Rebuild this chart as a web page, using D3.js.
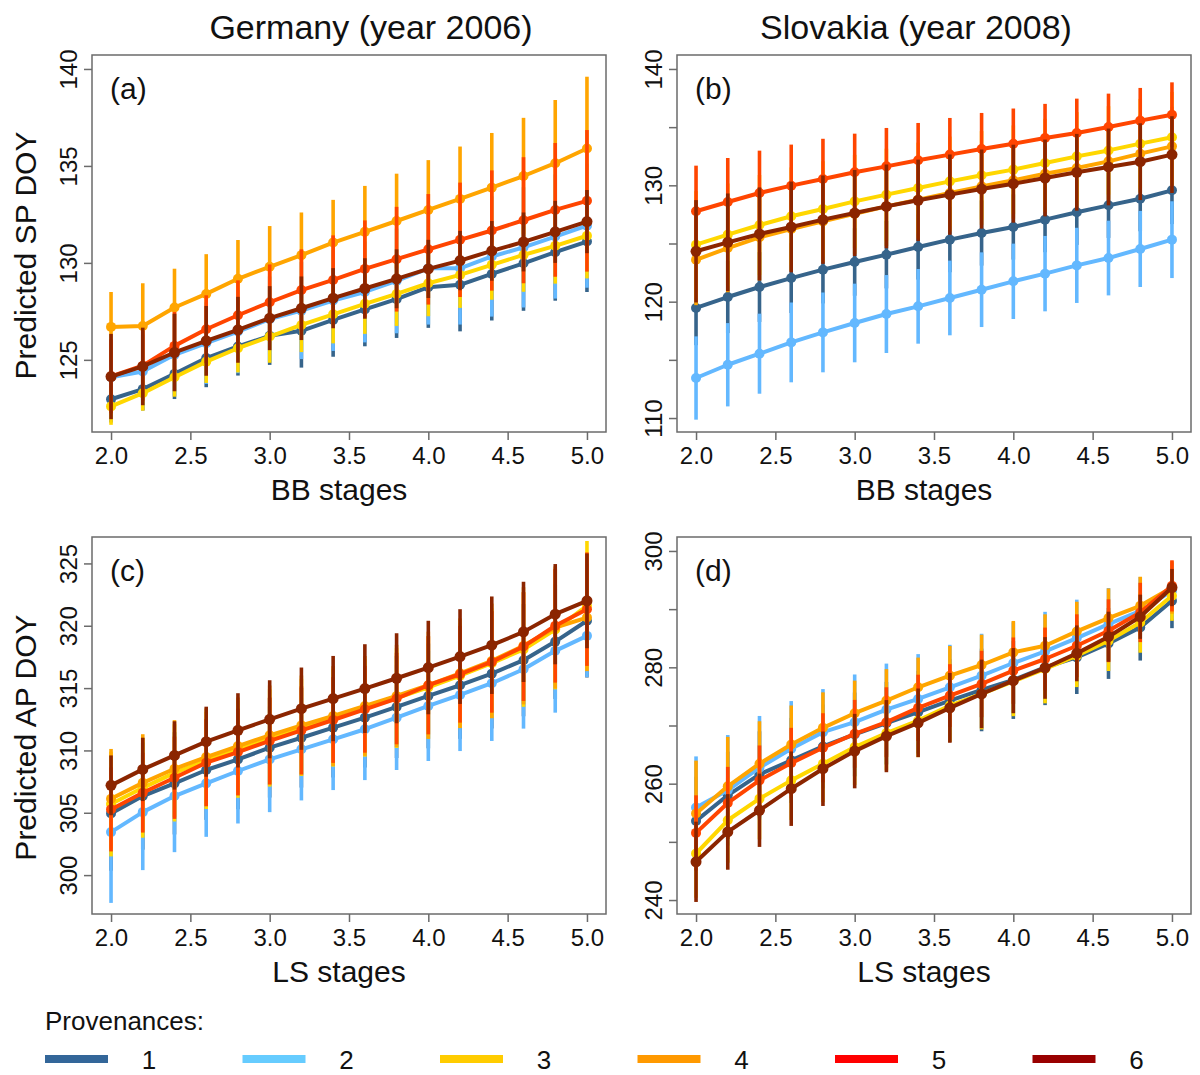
<!DOCTYPE html>
<html>
<head>
<meta charset="utf-8">
<script src="https://cdn.jsdelivr.net/npm/d3@7/dist/d3.min.js"></script>
<style>
  body { margin: 0; background: #fff; }
  text { font-family: "Liberation Sans", Arial, sans-serif; fill: #111; }
</style>
</head>
<body>
<div id="chart"></div>
<script>
// stages on the x axis (BB for top row, LS for bottom row)
var stages = [2.0, 2.2, 2.4, 2.6, 2.8, 3.0, 3.2, 3.4, 3.6, 3.8, 4.0, 4.2, 4.4, 4.6, 4.8, 5.0];
var provenances = ["1", "2", "3", "4", "5", "6"];
var xTicks = [2.0, 2.5, 3.0, 3.5, 4.0, 4.5, 5.0];

// (a) Germany, SP DOY vs BB stages : predicted value and half width of the bar
var pa1 = [122.97, 123.49, 124.28, 125.09, 125.69, 126.24, 126.5, 127.06, 127.6, 128.13, 128.75, 128.87, 129.43, 129.98, 130.55, 131.1];
var pa2 = [124.1, 124.4, 125.26, 125.86, 126.46, 127.1, 127.54, 128.06, 128.5, 129.07, 129.72, 129.72, 130.33, 130.8, 131.36, 131.92];
var pa3 = [122.6, 123.28, 124.1, 124.91, 125.6, 126.2, 126.8, 127.35, 127.89, 128.4, 128.95, 129.38, 129.9, 130.41, 130.88, 131.4];
var pa4 = [126.7, 126.75, 127.7, 128.4, 129.18, 129.8, 130.4, 131.05, 131.6, 132.16, 132.73, 133.3, 133.88, 134.48, 135.14, 135.9];
var pa5 = [124.15, 124.7, 125.72, 126.58, 127.3, 127.97, 128.6, 129.12, 129.69, 130.19, 130.7, 131.19, 131.67, 132.2, 132.73, 133.2];
var pa6 = [124.14, 124.66, 125.38, 125.98, 126.55, 127.15, 127.66, 128.18, 128.68, 129.18, 129.69, 130.12, 130.62, 131.08, 131.6, 132.13];
var pa1h = [1.2, 1.1, 1.3, 1.5, 1.5, 1.5, 1.9, 1.9, 1.9, 2.0, 2.1, 2.4, 2.4, 2.45, 2.5, 2.6];
var pa2h = [2.2, 1.9, 2.1, 2.1, 2.15, 2.2, 2.5, 2.6, 2.6, 2.7, 2.9, 2.9, 3.1, 3.1, 3.2, 3.2];
var pa3h = [0.95, 0.9, 1.0, 1.1, 1.25, 1.35, 1.4, 1.5, 1.55, 1.65, 1.7, 1.7, 1.8, 1.9, 1.95, 2.2];
var pa4h = [1.8, 2.2, 2.0, 2.05, 2.0, 2.1, 2.2, 2.2, 2.37, 2.44, 2.57, 2.7, 2.82, 3.0, 3.26, 3.7];
var pa5h = [1.9, 1.8, 1.75, 1.75, 1.8, 1.95, 2.1, 2.3, 2.5, 2.7, 2.85, 2.95, 3.1, 3.25, 3.45, 3.65];
var pa6h = [2.2, 2.0, 2.0, 1.8, 1.7, 1.65, 1.64, 1.55, 1.56, 1.52, 1.5, 1.53, 1.54, 1.52, 1.6, 1.63];

// (b) Slovakia, SP DOY vs BB stages
var pb1 = [119.46, 120.4, 121.26, 122.03, 122.75, 123.41, 124.04, 124.7, 125.33, 125.9, 126.42, 127.05, 127.68, 128.28, 128.85, 129.57];
var pb2 = [113.44, 114.58, 115.53, 116.5, 117.36, 118.17, 118.94, 119.6, 120.32, 121.03, 121.75, 122.41, 123.12, 123.75, 124.53, 125.33];
var pb3 = [124.9, 125.76, 126.59, 127.34, 127.97, 128.62, 129.2, 129.77, 130.34, 130.86, 131.35, 131.92, 132.49, 133.0, 133.58, 134.13];
var pb4 = [123.6, 124.61, 125.53, 126.25, 126.9, 127.56, 128.19, 128.77, 129.34, 129.91, 130.43, 131.0, 131.49, 132.06, 132.72, 133.35];
var pb5 = [127.77, 128.57, 129.34, 129.97, 130.54, 131.12, 131.63, 132.15, 132.64, 133.12, 133.58, 134.07, 134.5, 135.01, 135.56, 136.07];
var pb6 = [124.33, 125.1, 125.82, 126.42, 127.05, 127.62, 128.19, 128.71, 129.2, 129.68, 130.14, 130.63, 131.12, 131.58, 132.03, 132.64];
var pb1h = [3.2, 3.1, 3.0, 3.0, 2.9, 2.9, 2.9, 2.8, 2.8, 2.8, 2.8, 2.8, 2.8, 2.8, 2.8, 2.9];
var pb2h = [3.58, 3.58, 3.44, 3.43, 3.43, 3.38, 3.35, 3.21, 3.21, 3.21, 3.24, 3.24, 3.23, 3.21, 3.27, 3.3];
var pb3h = [4.6, 4.4, 4.3, 4.2, 4.1, 4.0, 3.95, 3.9, 3.85, 3.8, 3.8, 3.8, 3.8, 3.8, 3.85, 3.9];
var pb4h = [3.9, 3.8, 3.7, 3.6, 3.5, 3.45, 3.4, 3.35, 3.3, 3.3, 3.3, 3.3, 3.3, 3.3, 3.35, 3.4];
var pb5h = [3.92, 3.78, 3.64, 3.53, 3.46, 3.32, 3.3, 3.21, 3.15, 3.1, 3.02, 2.93, 2.95, 2.87, 2.81, 2.78];
var pb6h = [4.4, 4.2, 4.0, 3.9, 3.8, 3.7, 3.6, 3.5, 3.45, 3.4, 3.35, 3.3, 3.3, 3.3, 3.3, 3.3];

// (c) Germany, AP DOY vs LS stages
var pc1 = [304.95, 306.34, 307.36, 308.43, 309.28, 310.22, 311.02, 311.83, 312.63, 313.49, 314.37, 315.23, 316.16, 317.24, 318.73, 320.4];
var pc2 = [303.45, 305.05, 306.34, 307.36, 308.35, 309.28, 310.09, 310.89, 311.7, 312.63, 313.57, 314.45, 315.39, 316.51, 317.99, 319.19];
var pc3 = [305.7, 307.0, 308.2, 309.2, 310.1, 311.0, 311.85, 312.6, 313.4, 314.2, 315.05, 316.0, 317.0, 318.1, 319.7, 321.6];
var pc4 = [306.12, 307.4, 308.53, 309.47, 310.35, 311.21, 312.01, 312.76, 313.57, 314.37, 315.23, 316.19, 317.18, 318.39, 319.86, 320.66];
var pc5 = [305.27, 306.61, 307.81, 309.02, 309.87, 310.76, 311.61, 312.44, 313.3, 314.16, 315.23, 316.11, 317.1, 318.33, 320.0, 321.33];
var pc6 = [307.2, 308.48, 309.6, 310.7, 311.61, 312.5, 313.35, 314.16, 314.96, 315.79, 316.65, 317.53, 318.44, 319.51, 320.93, 322.0];
var pc1h = [4.6, 4.3, 4.1, 4.0, 4.0, 4.0, 4.0, 4.0, 4.0, 4.1, 4.2, 4.3, 4.4, 4.5, 4.6, 4.55];
var pc2h = [5.68, 4.65, 4.5, 4.29, 4.21, 4.23, 4.1, 4.07, 4.08, 4.2, 4.42, 4.5, 4.63, 4.76, 4.96, 3.3];
var pc3h = [4.2, 4.0, 3.9, 3.9, 3.9, 3.9, 3.9, 3.9, 3.9, 4.0, 4.1, 4.2, 4.4, 4.6, 4.8, 5.2];
var pc4h = [4.0, 3.9, 3.9, 3.9, 3.9, 4.0, 4.0, 4.0, 4.0, 4.1, 4.3, 4.4, 4.6, 4.7, 4.9, 4.3];
var pc5h = [3.37, 3.2, 3.3, 3.5, 3.48, 3.48, 3.53, 3.44, 3.48, 3.67, 3.94, 3.88, 4.07, 4.36, 4.56, 4.55];
var pc6h = [2.4, 2.54, 2.74, 2.81, 2.98, 3.13, 3.3, 3.42, 3.56, 3.61, 3.75, 3.8, 3.91, 4.02, 4.02, 3.8];

// (d) Slovakia, AP DOY vs LS stages
var pd1 = [253.6, 258.0, 261.6, 264.0, 266.4, 268.46, 270.4, 272.29, 274.29, 276.11, 277.83, 280.0, 281.71, 284.11, 286.86, 291.43];
var pd2 = [255.89, 258.86, 262.74, 266.0, 268.86, 270.57, 272.74, 274.57, 276.57, 278.57, 280.74, 282.74, 285.03, 287.43, 289.71, 293.14];
var pd3 = [248.0, 253.71, 257.43, 260.57, 263.43, 266.29, 268.69, 270.86, 273.43, 275.43, 277.6, 279.71, 282.0, 284.57, 287.71, 292.29];
var pd4 = [254.86, 259.54, 263.43, 266.74, 269.6, 272.11, 274.29, 276.57, 278.57, 280.4, 282.57, 283.71, 286.17, 288.46, 290.57, 293.71];
var pd5 = [251.54, 256.69, 260.57, 263.54, 266.17, 268.57, 270.57, 273.03, 275.14, 277.14, 279.43, 281.43, 283.71, 286.29, 289.43, 294.0];
var pd6 = [246.57, 251.71, 255.43, 259.14, 262.57, 265.6, 268.17, 270.46, 273.03, 275.43, 277.71, 279.89, 282.4, 285.26, 288.69, 293.71];
var pd1h = [7.6, 7.5, 7.4, 7.3, 7.2, 7.2, 7.1, 7.1, 7.1, 7.1, 6.7, 6.5, 6.3, 6.1, 5.7, 4.7];
var pd2h = [8.8, 9.5, 8.9, 8.2, 7.4, 8.2, 7.9, 7.7, 7.3, 7.2, 7.0, 6.8, 6.6, 6.2, 5.8, 4.8];
var pd3h = [7.6, 7.3, 7.0, 6.8, 6.6, 6.5, 6.4, 6.3, 6.2, 6.1, 6.0, 5.9, 5.4, 5.2, 5.2, 4.3];
var pd4h = [9.1, 8.5, 7.3, 6.7, 6.1, 5.6, 5.4, 5.1, 5.1, 5.2, 5.4, 5.4, 5.1, 5.1, 5.0, 4.5];
var pd5h = [6.46, 6.2, 6.0, 6.06, 5.94, 5.83, 6.0, 5.7, 5.4, 5.7, 5.7, 5.4, 5.4, 5.4, 5.1, 4.4];
var pd6h = [6.9, 6.5, 6.3, 6.4, 6.4, 6.4, 6.2, 5.9, 6.0, 5.9, 5.6, 5.3, 4.8, 4.3, 3.8, 3.2];

// line colours in the panels and the (slightly different) legend colours
var lineColors = ["#36648B", "#63B8FF", "#FFD700", "#FFA500", "#FF4500", "#8B2500"];
var legendColors = ["#336699", "#66CCFF", "#FFCC00", "#FF9900", "#FF0000", "#990000"];

var panels = [
	{tag: "(a)", left: 92, top: 55, vals: [pa1, pa2, pa3, pa4, pa5, pa6], half: [pa1h, pa2h, pa3h, pa4h, pa5h, pa6h],
		ylim: [122, 140], yticks: [125, 130, 135, 140], ystep: 5, xlab: "BB stages", ylab: "Predicted SP DOY"},
	{tag: "(b)", left: 677, top: 55, vals: [pb1, pb2, pb3, pb4, pb5, pb6], half: [pb1h, pb2h, pb3h, pb4h, pb5h, pb6h],
		ylim: [110, 140], yticks: [110, 115, 120, 125, 130, 135, 140], ystep: 10, xlab: "BB stages", ylab: null},
	{tag: "(c)", left: 92, top: 537, vals: [pc1, pc2, pc3, pc4, pc5, pc6], half: [pc1h, pc2h, pc3h, pc4h, pc5h, pc6h],
		ylim: [298, 326], yticks: [300, 305, 310, 315, 320, 325], ystep: 5, xlab: "LS stages", ylab: "Predicted AP DOY"},
	{tag: "(d)", left: 677, top: 537, vals: [pd1, pd2, pd3, pd4, pd5, pd6], half: [pd1h, pd2h, pd3h, pd4h, pd5h, pd6h],
		ylim: [240, 300], yticks: [240, 250, 260, 270, 280, 290, 300], ystep: 20, xlab: "LS stages", ylab: null}
];

var W = 1200, H = 1075, pw = 514, ph = 377;

var svg = d3.select("#chart").append("svg")
	.attr("width", W)
	.attr("height", H);

// column titles
svg.append("text").attr("x", 371).attr("y", 39).attr("text-anchor", "middle")
	.style("font-size", "34px").text("Germany (year 2006)");
svg.append("text").attr("x", 916).attr("y", 39).attr("text-anchor", "middle")
	.style("font-size", "34px").text("Slovakia (year 2008)");

panels.forEach(function(p, k) {
	// R style 4% padding around the data range
	var xpad = 0.04 * 3, ypad = 0.04 * (p.ylim[1] - p.ylim[0]);
	var x = d3.scaleLinear().domain([2 - xpad, 5 + xpad]).range([p.left, p.left + pw]);
	var y = d3.scaleLinear().domain([p.ylim[0] - ypad, p.ylim[1] + ypad]).range([p.top + ph, p.top]);

	var clipId = "clip" + k;
	svg.append("clipPath").attr("id", clipId)
		.append("rect").attr("x", p.left).attr("y", p.top).attr("width", pw).attr("height", ph);

	var g = svg.append("g").attr("clip-path", "url(#" + clipId + ")");

	var line = d3.line()
		.x(function(d, i) { return x(stages[i]); })
		.y(function(d) { return y(d); });

	p.vals.forEach(function(vals, s) {
		var col = lineColors[s];
		var sg = g.append("g");
		// error bars
		sg.selectAll("line.bar")
			.data(vals)
			.enter()
			.append("line")
				.attr("class", "bar")
				.attr("x1", function(d, i) { return x(stages[i]); })
				.attr("x2", function(d, i) { return x(stages[i]); })
				.attr("y1", function(d, i) { return y(d - p.half[s][i]); })
				.attr("y2", function(d, i) { return y(d + p.half[s][i]); })
				.attr("stroke", col)
				.attr("stroke-width", 3.6);
		sg.append("path")
			.attr("d", line(vals))
			.attr("fill", "none")
			.attr("stroke", col)
			.attr("stroke-width", 4)
			.attr("stroke-linejoin", "round");
		sg.selectAll("circle")
			.data(vals)
			.enter()
			.append("circle")
				.attr("cx", function(d, i) { return x(stages[i]); })
				.attr("cy", function(d) { return y(d); })
				.attr("r", s === 5 ? 5.5 : 5)
				.attr("fill", col);
	});

	// box
	svg.append("rect")
		.attr("x", p.left).attr("y", p.top).attr("width", pw).attr("height", ph)
		.attr("fill", "none").attr("stroke", "#6b6b6b").attr("stroke-width", 1.5);

	// x axis
	var xa = svg.append("g")
		.attr("transform", "translate(0," + (p.top + ph) + ")")
		.call(d3.axisBottom(x).tickValues(xTicks).tickFormat(d3.format(".1f")).tickSize(8).tickPadding(7));
	xa.select(".domain").remove();
	xa.selectAll("line").attr("stroke", "#6b6b6b").attr("stroke-width", 1.5);
	xa.selectAll("text").style("font-size", "24px").attr("fill", "#111");

	// y axis, labels turned like R's default
	var ya = svg.append("g")
		.attr("transform", "translate(" + p.left + ",0)")
		.call(d3.axisLeft(y).tickValues(p.yticks).tickSize(8)
			.tickFormat(function(d) { return d % p.ystep === 0 ? d : ""; }));
	ya.select(".domain").remove();
	ya.selectAll("line").attr("stroke", "#6b6b6b").attr("stroke-width", 1.5);
	ya.selectAll("text")
		.attr("x", null).attr("dy", null)
		.attr("text-anchor", "middle")
		.attr("transform", "translate(-15,0) rotate(-90)")
		.style("font-size", "24px").attr("fill", "#111");

	// panel tag
	svg.append("text").attr("x", p.left + 18).attr("y", p.top + 44)
		.style("font-size", "30px").text(p.tag);

	// axis titles
	svg.append("text").attr("x", p.left + pw / 2 - 10).attr("y", p.top + ph + 68)
		.attr("text-anchor", "middle").style("font-size", "30px").text(p.xlab);
	if (p.ylab) {
		svg.append("text")
			.attr("transform", "translate(36," + (p.top + ph / 2 + 12) + ") rotate(-90)")
			.attr("text-anchor", "middle").style("font-size", "30px").text(p.ylab);
	}
});

// legend
svg.append("text").attr("x", 45).attr("y", 1030).style("font-size", "26px").text("Provenances:");

var leg = svg.selectAll("g.leg")
	.data(provenances)
	.enter()
	.append("g")
		.attr("class", "leg")
		.attr("transform", function(d, i) { return "translate(" + (45 + i * 197.5) + ",1059)"; });
leg.append("line")
	.attr("x1", 0).attr("x2", 63).attr("y1", 0).attr("y2", 0)
	.attr("stroke", function(d, i) { return legendColors[i]; })
	.attr("stroke-width", 8);
leg.append("text")
	.attr("x", 104).attr("y", 10)
	.attr("text-anchor", "middle")
	.style("font-size", "26px")
	.text(function(d) { return d; });
</script>
</body>
</html>
